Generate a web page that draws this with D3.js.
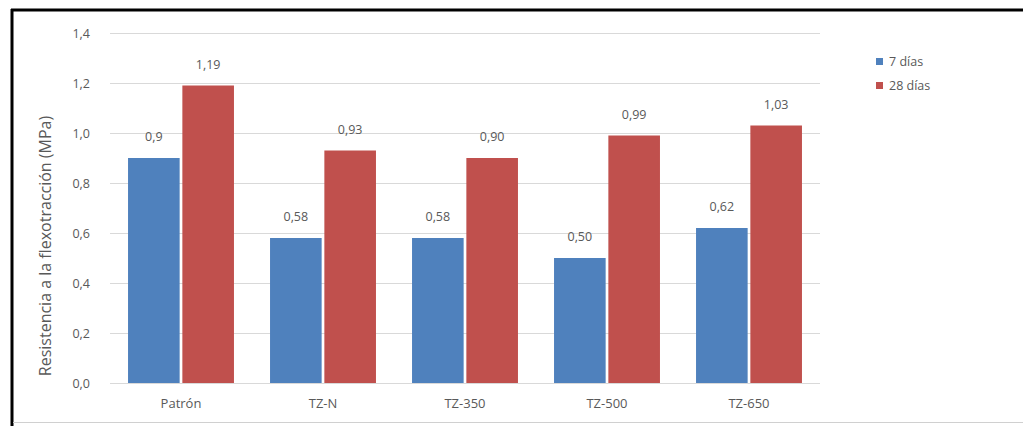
<!DOCTYPE html>
<html>
<head>
<meta charset="utf-8">
<script src="https://cdn.jsdelivr.net/npm/d3@7"></script>
<style>
  html, body { margin: 0; padding: 0; background: #fff; }
  svg { display: block; }
  text { font-family: "Open Sans", "Noto Sans", sans-serif; fill: #595959; }
</style>
</head>
<body>
<svg id="chart" width="1023" height="426"></svg>
<script>
// Flexural strength by mix, at 7 and 28 days
const categories = ["Patrón", "TZ-N", "TZ-350", "TZ-500", "TZ-650"];
const seriesNames = ["7 días", "28 días"];
const values7 = [0.90, 0.58, 0.58, 0.50, 0.62];
const values28 = [1.19, 0.93, 0.90, 0.99, 1.03];
const labels7 = ["0,9", "0,58", "0,58", "0,50", "0,62"];
const labels28 = ["1,19", "0,93", "0,90", "0,99", "1,03"];
const yTicks = [0, 0.2, 0.4, 0.6, 0.8, 1.0, 1.2, 1.4];
const yTickLabels = ["0,0", "0,2", "0,4", "0,6", "0,8", "1,0", "1,2", "1,4"];
const colors = ["#4F81BD", "#C0504D"];

const svg = d3.select("#chart");
const W = 1023, H = 426;
const plot = { left: 110, right: 820, top: 33, bottom: 383 };

// frame
svg.append("rect").attr("x", 0).attr("y", 0).attr("width", W).attr("height", H).attr("fill", "#fff");
svg.append("line").attr("x1", 12).attr("x2", 12).attr("y1", 9).attr("y2", H)
  .attr("stroke", "#000").attr("stroke-width", 3);
svg.append("line").attr("x1", 11).attr("x2", W).attr("y1", 10).attr("y2", 10)
  .attr("stroke", "#000").attr("stroke-width", 3);
svg.append("line").attr("x1", 13).attr("x2", W).attr("y1", 422.5).attr("y2", 422.5)
  .attr("stroke", "#d0d0d0").attr("stroke-width", 1);

const x0 = d3.scaleBand().domain(categories).range([plot.left, plot.right]).paddingInner(0.254).paddingOuter(0.127);
const x1 = d3.scaleBand().domain(seriesNames).range([0, x0.bandwidth()]).paddingInner(0.05);
const y = d3.scaleLinear().domain([0, 1.4]).range([plot.bottom, plot.top]);

// gridlines
svg.append("g").selectAll("line").data(yTicks).join("line")
  .attr("x1", plot.left).attr("x2", plot.right)
  .attr("y1", d => Math.round(y(d)) + 0.5).attr("y2", d => Math.round(y(d)) + 0.5)
  .attr("stroke", "#d9d9d9").attr("stroke-width", 1);

// y axis
const yAxis = d3.axisLeft(y).tickValues(yTicks).tickSize(0).tickPadding(0)
  .tickFormat((d, i) => yTickLabels[i]);
const gy = svg.append("g").attr("transform", `translate(${plot.left - 20},0.5)`).call(yAxis);
gy.select(".domain").remove();
gy.selectAll("text").attr("font-size", 12.5).style("font-family", '"Open Sans", sans-serif').attr("fill", "#7f7f7f");

// x axis
const xAxis = d3.axisBottom(x0).tickSize(0).tickPadding(0);
const gx = svg.append("g").attr("transform", `translate(0,${plot.bottom + 16})`).call(xAxis);
gx.select(".domain").remove();
gx.selectAll("text").attr("font-size", 13).style("font-family", '"Open Sans", sans-serif').attr("fill", "#595959");

// bars
const rows = categories.map((c, i) => ({
  cat: c,
  items: [
    { s: seriesNames[0], v: values7[i], label: labels7[i], color: colors[0] },
    { s: seriesNames[1], v: values28[i], label: labels28[i], color: colors[1] }
  ]
}));

const groups = svg.append("g").selectAll("g").data(rows).join("g")
  .attr("transform", d => `translate(${x0(d.cat)},0)`);

groups.selectAll("rect").data(d => d.items).join("rect")
  .attr("x", d => x1(d.s)).attr("width", x1.bandwidth())
  .attr("y", d => y(d.v)).attr("height", d => y(0) - y(d.v))
  .attr("fill", d => d.color);

groups.selectAll("text.val").data(d => d.items).join("text")
  .attr("class", "val")
  .attr("x", d => x1(d.s) + x1.bandwidth() / 2)
  .attr("y", d => y(d.v) - 17)
  .attr("text-anchor", "middle")
  .attr("font-size", 12.5)
  .attr("fill", "#595959")
  .text(d => d.label);

// y axis title
svg.append("text")
  .attr("transform", `translate(51,${(plot.top + plot.bottom) / 2 + 38}) rotate(-90)`)
  .attr("text-anchor", "middle")
  .attr("font-size", 16)
  .attr("fill", "#595959")
  .text("Resistencia a la flexotracción (MPa)");

// legend
const legend = svg.append("g").attr("transform", "translate(876,0)");
seriesNames.forEach((name, i) => {
  const ly = 62 + i * 24;
  legend.append("rect").attr("x", 0).attr("y", ly - 4).attr("width", 7).attr("height", 7).attr("fill", colors[i]);
  legend.append("text").attr("x", 13).attr("y", ly + 4).attr("font-size", 12.5).attr("fill", "#595959").text(name);
});
</script>
</body>
</html>
